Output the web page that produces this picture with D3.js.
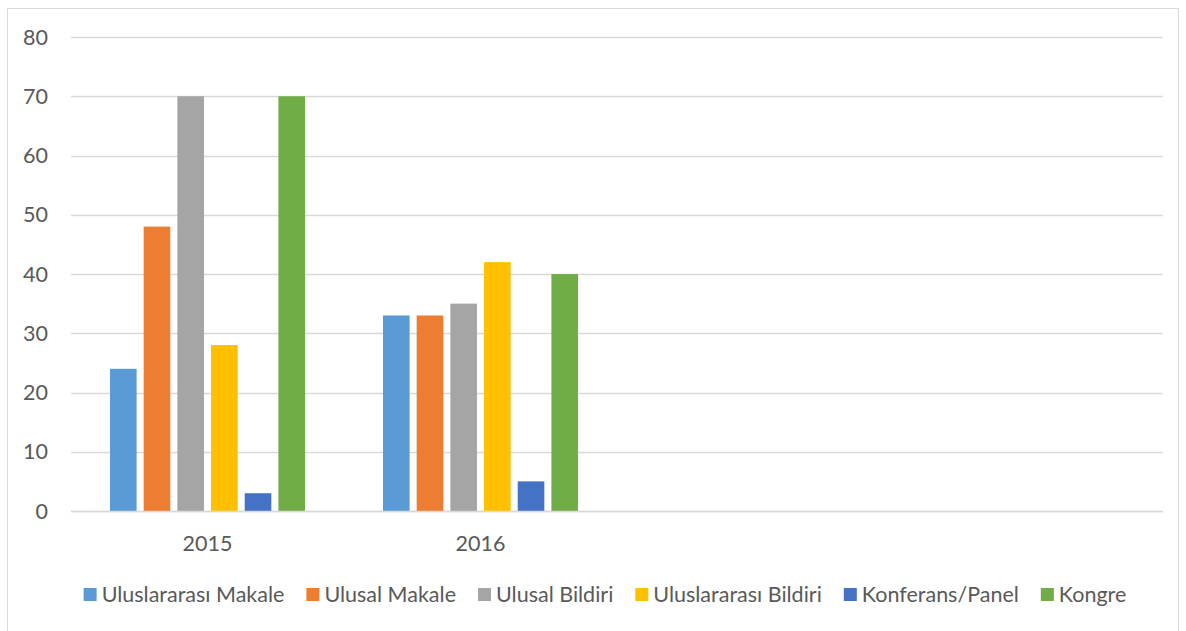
<!DOCTYPE html>
<html>
<head>
<meta charset="utf-8">
<script src="https://cdn.jsdelivr.net/npm/d3@7"></script>
<style>
  body { margin: 0; background: #fff; }
  text { font-family: Lato, "Liberation Sans", sans-serif; fill: #595959; }
</style>
</head>
<body>
<svg></svg>
<script>
const width = 1186;
const height = 631;
const fontSize = 21.5;

// Data
const categories = ["2015", "2016", "c3", "c4"];
const tickLabels = ["2015", "2016", "", ""];
const seriesNames = ["Uluslararası Makale", "Ulusal Makale", "Ulusal Bildiri", "Uluslararası Bildiri", "Konferans/Panel", "Kongre"];
const values2015 = [24, 48, 70, 28, 3, 70];
const values2016 = [33, 33, 35, 42, 5, 40];
const colors = ["#5B9BD5", "#ED7D31", "#A5A5A5", "#FFC000", "#4472C4", "#70AD47"];
const yTicks = [0, 10, 20, 30, 40, 50, 60, 70, 80];

const valuesByCategory = { "2015": values2015, "2016": values2016 };

const svg = d3.select("svg")
    .attr("width", width)
    .attr("height", height);

// chart border
svg.append("rect")
    .attr("x", 7.5).attr("y", 8.5)
    .attr("width", 1171).attr("height", 640)
    .attr("fill", "none")
    .attr("stroke", "#d9d9d9");

const margin = {left: 71, right: 1163, top: 37, bottom: 511};

const x0 = d3.scaleBand()
    .domain(categories)
    .range([margin.left, margin.right]);

const x1 = d3.scaleBand()
    .domain(seriesNames)
    .range([39, 234])
    .paddingInner(0.21);

const y = d3.scaleLinear()
    .domain([0, 80])
    .range([margin.bottom, margin.top]);

// gridlines
svg.append("g")
    .selectAll("line")
    .data(yTicks)
    .enter().append("line")
    .attr("x1", margin.left)
    .attr("x2", margin.right)
    .attr("y1", d => Math.round(y(d)) + 0.5)
    .attr("y2", d => Math.round(y(d)) + 0.5)
    .attr("stroke", "#d9d9d9")
    .attr("stroke-width", 1.3);

// y labels
svg.append("g")
    .selectAll("text")
    .data(yTicks)
    .enter().append("text")
    .attr("x", 48)
    .attr("y", d => y(d))
    .attr("dy", "0.35em")
    .attr("text-anchor", "end")
    .attr("font-size", fontSize)
    .text(d => d);

// bars
const groups = svg.append("g")
    .selectAll("g")
    .data(categories.filter(c => valuesByCategory[c]))
    .enter().append("g")
    .attr("transform", d => `translate(${x0(d)},0)`);

groups.selectAll("rect")
    .data(c => valuesByCategory[c].map((v, i) => ({name: seriesNames[i], value: v, color: colors[i]})))
    .enter().append("rect")
    .attr("x", d => x1(d.name))
    .attr("width", x1.bandwidth())
    .attr("y", d => y(d.value))
    .attr("height", d => y(0) - y(d.value))
    .attr("fill", d => d.color);

// baseline drawn over bars
svg.append("line")
    .attr("x1", margin.left).attr("x2", margin.right)
    .attr("y1", y(0) + 0.5).attr("y2", y(0) + 0.5)
    .attr("stroke", "#d9d9d9")
    .attr("stroke-width", 1.3);

// x labels
const xAxis = svg.append("g")
    .attr("transform", `translate(0,${margin.bottom})`)
    .call(d3.axisBottom(x0).tickSize(0).tickFormat((d, i) => tickLabels[i]));
xAxis.select(".domain").remove();
xAxis.selectAll("text")
    .attr("y", 40)
    .attr("dy", 0)
    .attr("font-size", fontSize)
    .attr("font-family", "Lato, 'Liberation Sans', sans-serif")
    .attr("fill", "#595959");

// legend
const legend = svg.append("g");
const items = legend.selectAll("g")
    .data(seriesNames)
    .enter().append("g");

items.append("rect")
    .attr("width", 13)
    .attr("height", 13)
    .attr("y", 588)
    .attr("fill", (d, i) => colors[i]);

items.append("text")
    .attr("x", 18)
    .attr("y", 602)
    .attr("font-size", fontSize)
    .text(d => d);

let cursor = 0;
const offsets = [];
items.each(function () {
    offsets.push(cursor);
    const w = d3.select(this).select("text").node().getComputedTextLength();
    cursor += 18 + w + 22;
});
const total = cursor - 22;
const startX = 605 - total / 2;
items.attr("transform", (d, i) => `translate(${startX + offsets[i]},0)`);
</script>
</body>
</html>
